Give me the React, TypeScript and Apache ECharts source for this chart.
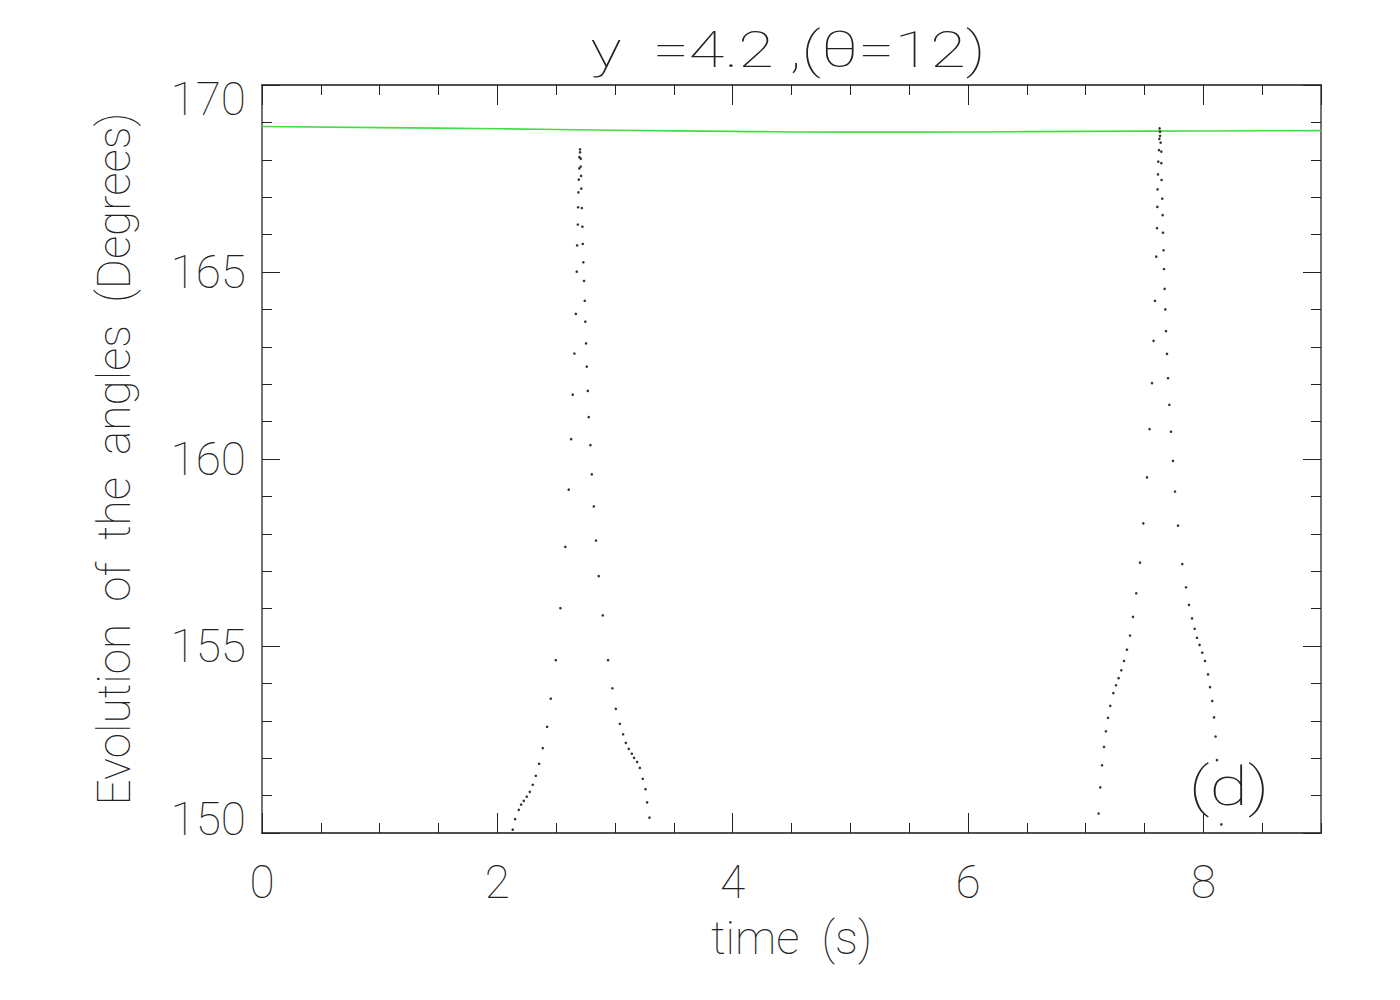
import React, { useEffect, useRef } from "react";
import * as echarts from "echarts";

const titleText = "y  =4.2 ,(θ=12)";
const panelLabel = "(d)";
const xTitle = "time  (s)";
const yTitle = "Evolution  of  the  angles  (Degrees)";

// green reference line
const greenTimes = [0, 1, 2, 3, 4, 5, 6, 7, 8, 9];
const greenAngles = [168.89, 168.86, 168.83, 168.79, 168.76, 168.74, 168.745, 168.76, 168.77, 168.78];

// first peak (dots)
const peak1Times = [
  2.703, 2.703, 2.697, 2.709, 2.697, 2.709, 2.692, 2.712, 2.689, 2.714, 2.686, 2.718, 2.684, 2.723,
  2.678, 2.726, 2.731, 2.675, 2.737, 2.743, 2.667, 2.748, 2.754, 2.655, 2.760, 2.769, 2.641, 2.777,
  2.627, 2.791, 2.803, 2.607, 2.820, 2.839, 2.578, 2.862, 2.536, 2.896, 2.497, 2.941, 2.978, 2.454,
  3.007, 2.423, 3.041, 3.069, 2.386, 3.092, 3.117, 3.143, 3.162, 3.188, 2.355, 3.211, 2.327, 3.236,
  2.301, 2.276, 2.250, 2.225, 3.259, 2.202, 2.182, 3.273, 2.151, 3.293, 2.131,
];
const peak1Angles = [
  168.28, 168.2, 168.07, 168.03, 167.77, 167.82, 167.47, 167.57, 167.13, 167.23, 166.73, 166.71, 166.27, 166.21,
  165.71, 165.75, 165.26, 165.01, 164.76, 164.23, 163.88, 163.67, 163.09, 162.82, 162.47, 161.82, 161.72, 161.12,
  160.53, 160.37, 159.59, 159.18, 158.73, 157.82, 157.65, 156.87, 156.01, 155.82, 154.62, 154.62, 153.87, 153.59,
  153.32, 152.84, 152.92, 152.64, 152.27, 152.41, 152.25, 152.12, 152.01, 151.9, 151.85, 151.74, 151.53, 151.45,
  151.29, 151.1, 150.97, 150.86, 151.17, 150.76, 150.62, 150.82, 150.37, 150.41, 150.09,
];

// second peak (dots)
const peak2Times = [
  7.628, 7.632, 7.632, 7.626, 7.637, 7.623, 7.643, 7.617, 7.643, 7.615, 7.645, 7.611, 7.651, 7.609,
  7.654, 7.606, 7.657, 7.662, 7.6, 7.666, 7.671, 7.589, 7.677, 7.683, 7.577, 7.691, 7.7, 7.564,
  7.711, 7.543, 7.725, 7.742, 7.521, 7.759, 7.49, 7.785, 7.462, 7.821, 7.853, 7.43, 7.878, 7.402,
  7.904, 7.926, 7.377, 7.946, 7.968, 7.351, 7.991, 7.326, 8.014, 7.303, 8.04, 7.28, 8.057, 7.258,
  7.235, 8.076, 7.209, 7.19, 8.091, 7.172, 8.104, 7.156, 8.116, 7.139, 7.124, 7.11, 8.153,
];
const peak2Angles = [
  168.84, 168.75, 168.64, 168.56, 168.46, 168.26, 168.22, 167.95, 167.91, 167.61, 167.46, 167.21, 166.96, 166.74,
  166.52, 166.17, 166.05, 165.58, 165.41, 165.08, 164.55, 164.23, 164.0, 163.42, 163.16, 162.81, 162.16, 162.03,
  161.45, 160.8, 160.73, 159.95, 159.51, 159.13, 158.28, 158.22, 157.23, 157.19, 156.57, 156.41, 156.1, 155.78,
  155.74, 155.46, 155.28, 155.22, 155.03, 154.9, 154.82, 154.6, 154.6, 154.35, 154.24, 154.14, 153.9, 153.95,
  153.74, 153.53, 153.4, 153.08, 153.09, 152.72, 152.58, 152.3, 151.95, 151.81, 151.22, 150.52, 150.23,
];

const zip = (a: number[], b: number[]) => a.map((v, i) => [v, b[i]]);

export default function App() {
  const ref = useRef<HTMLDivElement>(null);
  useEffect(() => {
    const chart = echarts.init(ref.current!, null, { renderer: "svg" });
    const fontFamily = "Roboto, 'DejaVu Sans', sans-serif";
    const fw = 100;
    const txt = "#222";
    const lineCol = "#444";
    const xBase = {
      type: "value",
      min: 0,
      max: 9,
      splitLine: { show: false },
      axisLine: { show: true, onZero: false, lineStyle: { color: lineCol, width: 1.5 } },
    };
    const yBase = {
      type: "value",
      min: 150,
      max: 170,
      interval: 5,
      splitLine: { show: false },
      axisLine: { show: true, onZero: false, lineStyle: { color: lineCol, width: 1.5 } },
      axisTick: { show: true, inside: true, length: 18, lineStyle: { color: "#222", width: 1 } },
      minorTick: { show: true, splitNumber: 5, length: 10, lineStyle: { color: "#222", width: 1 } },
    };
    const option = {
      animation: false,
      backgroundColor: "#fff",
      grid: { left: 262, right: 79, top: 85, bottom: 167, containLabel: false },
      xAxis: [
        {
          ...xBase,
          position: "bottom",
          interval: 2,
          name: xTitle,
          nameLocation: "middle",
          nameGap: 82,
          nameTextStyle: { fontSize: 46, fontFamily, color: txt, fontWeight: fw },
          axisTick: { show: true, inside: true, length: 20, lineStyle: { color: "#222", width: 1 } },
          axisLabel: { show: true, margin: 26, fontSize: 46, fontFamily, color: txt, fontWeight: fw, showMaxLabel: false },
        },
        {
          ...xBase,
          position: "bottom",
          interval: 0.5,
          axisTick: { show: true, inside: true, length: 10, lineStyle: { color: "#222", width: 1 } },
          axisLabel: { show: false },
        },
        {
          ...xBase,
          position: "top",
          interval: 2,
          axisTick: { show: true, inside: true, length: 20, lineStyle: { color: "#222", width: 1 } },
          axisLabel: { show: false },
        },
        {
          ...xBase,
          position: "top",
          interval: 0.5,
          axisTick: { show: true, inside: true, length: 10, lineStyle: { color: "#222", width: 1 } },
          axisLabel: { show: false },
        },
      ],
      yAxis: [
        {
          ...yBase,
          position: "left",
          name: yTitle,
          nameLocation: "middle",
          nameGap: 125,
          nameTextStyle: { fontSize: 46, fontFamily, color: txt, fontWeight: fw },
          axisLabel: {
            show: true,
            margin: 16,
            fontSize: 46,
            fontFamily,
            color: txt,
            fontWeight: fw,
            formatter: (v: number) => (v === 170 ? `{hi|${v}}` : v === 150 ? `{lo|${v}}` : `${v}`),
            rich: {
              hi: { fontSize: 46, fontFamily, color: txt, fontWeight: fw, padding: [28, 0, 0, 0] },
              lo: { fontSize: 46, fontFamily, color: txt, fontWeight: fw, padding: [0, 0, 28, 0] },
            },
          },
        },
        {
          ...yBase,
          position: "right",
          axisLabel: { show: false },
        },
      ],
      series: [
        {
          type: "line",
          xAxisIndex: 0,
          yAxisIndex: 0,
          data: zip(greenTimes, greenAngles),
          showSymbol: false,
          smooth: true,
          lineStyle: { color: "#44dd44", width: 1.6 },
          z: 2,
        },
        {
          type: "scatter",
          xAxisIndex: 0,
          yAxisIndex: 0,
          data: zip(peak1Times, peak1Angles),
          symbol: "circle",
          symbolSize: 2.6,
          itemStyle: { color: "#000" },
          z: 3,
        },
        {
          type: "scatter",
          xAxisIndex: 0,
          yAxisIndex: 0,
          data: zip(peak2Times, peak2Angles),
          symbol: "circle",
          symbolSize: 2.6,
          itemStyle: { color: "#000" },
          z: 3,
        },
      ],
      graphic: [
        {
          type: "text",
          x: 788,
          y: 50,
          scaleX: 1.3,
          style: {
            text: titleText,
            fontSize: 50,
            fontFamily,
            fontWeight: fw,
            fill: txt,
            align: "center",
            verticalAlign: "middle",
            textAlign: "center",
            textVerticalAlign: "middle",
          },
        },
        {
          type: "text",
          x: 1229,
          y: 786,
          scaleX: 1.3,
          style: {
            text: panelLabel,
            fontSize: 54,
            fontFamily,
            fontWeight: fw,
            fill: txt,
            align: "center",
            verticalAlign: "middle",
            textAlign: "center",
            textVerticalAlign: "middle",
          },
        },
      ],
    };
    chart.setOption(option as any);
    return () => chart.dispose();
  }, []);
  return <div ref={ref} style={{ position: "absolute", left: 0, top: 0, width: 1400, height: 1000 }} />;
}
